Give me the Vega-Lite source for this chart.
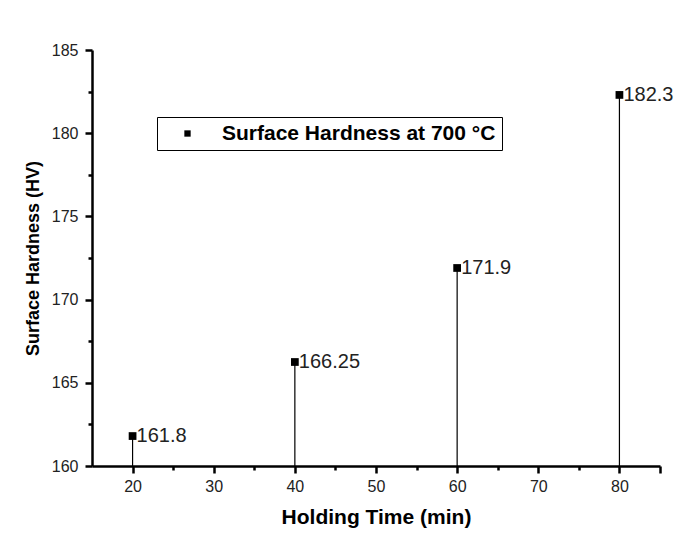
{
  "$schema": "https://vega.github.io/schema/vega-lite/v6.json",
  "width": 568,
  "height": 416,
  "autosize": "none",
  "padding": {"left": 92, "top": 50, "right": 20, "bottom": 73},
  "background": "white",
  "config": {
    "view": {"stroke": null},
    "font": "Liberation Sans",
    "axis": {"grid": false, "domainColor": "black", "domainWidth": 2.5, "tickColor": "black", "tickWidth": 2.5, "labelFont": "Liberation Sans", "labelFontSize": 16, "labelColor": "#222", "titleFont": "Liberation Sans", "titleFontWeight": "bold", "titleColor": "black"}
  },
  "data": {
    "values": [
      {"time": 20, "hardness": 161.8, "label": "161.8", "series": "Surface Hardness at 700 °C"},
      {"time": 40, "hardness": 166.25, "label": "166.25", "series": "Surface Hardness at 700 °C"},
      {"time": 60, "hardness": 171.9, "label": "171.9", "series": "Surface Hardness at 700 °C"},
      {"time": 80, "hardness": 182.3, "label": "182.3", "series": "Surface Hardness at 700 °C"}
    ]
  },
  "layer": [
    {
      "mark": {"type": "rule", "color": "black", "strokeWidth": 1.2},
      "encoding": {
        "x": {"field": "time", "type": "quantitative", "scale": {"domain": [15, 85], "nice": false, "zero": false},
          "axis": {"values": [20, 25, 30, 35, 40, 45, 50, 55, 60, 65, 70, 75, 80, 85], "labelExpr": "datum.value % 10 == 0 ? datum.label : ''", "tickSize": {"condition": {"test": "datum.value % 10 == 0 || datum.value == 85", "value": 7}, "value": 4}, "title": "Holding Time (min)", "titleFontSize": 21, "labelPadding": 5, "titlePadding": 12}},
        "y": {"field": "hardness", "type": "quantitative", "scale": {"domain": [160, 185], "nice": false, "zero": false},
          "axis": {"values": [160, 162.5, 165, 167.5, 170, 172.5, 175, 177.5, 180, 182.5, 185], "labelExpr": "datum.value % 5 == 0 ? datum.label : ''", "tickSize": {"condition": {"test": "datum.value % 5 == 0", "value": 7}, "value": 4}, "title": "Surface Hardness (HV)", "titleFontSize": 18, "labelPadding": 7, "titlePadding": 9}},
        "y2": {"datum": 160}
      }
    },
    {
      "mark": {"type": "point", "shape": "square", "filled": true, "size": 60, "opacity": 1},
      "encoding": {
        "x": {"field": "time", "type": "quantitative"},
        "y": {"field": "hardness", "type": "quantitative"},
        "color": {"field": "series", "type": "nominal", "scale": {"range": ["black"]},
          "legend": {"title": null, "orient": "none", "legendX": 65, "legendY": 67, "strokeColor": "black", "padding": 6, "symbolType": "square", "symbolSize": 40, "symbolOffset": 14, "labelOffset": 24, "labelFont": "Liberation Sans", "labelFontSize": 21, "labelFontWeight": "bold", "labelColor": "black", "labelLimit": 500}}
      }
    },
    {
      "mark": {"type": "text", "align": "left", "baseline": "middle", "dx": 4, "fontSize": 20, "font": "Liberation Sans", "color": "#222"},
      "encoding": {
        "x": {"field": "time", "type": "quantitative"},
        "y": {"field": "hardness", "type": "quantitative"},
        "text": {"field": "label"}
      }
    }
  ]
}
